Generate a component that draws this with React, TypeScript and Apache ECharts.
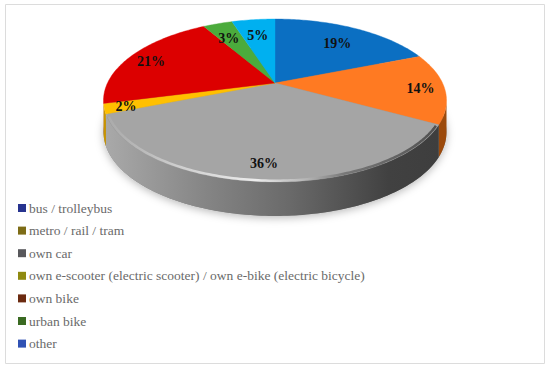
import React, { useEffect, useRef } from "react";
import * as echarts from "echarts";

const categories = [
  "bus / trolleybus",
  "metro / rail / tram",
  "own car",
  "own e-scooter (electric scooter) / own e-bike (electric bicycle)",
  "own bike",
  "urban bike",
  "other",
];
const shares = [19, 14, 36, 2, 20.6, 3.4, 5];
const sliceColors = ["#0b6fc2", "#ff7a22", "#a5a5a5", "#ffc000", "#dc0000", "#4bab3c", "#00b0f0"];
const wallColors = ["#074a80", "#9c4a0c", "#777777", "#c99500", "#8a0000", "#2d6a24", "#00709a"];
const legendColors = ["#27338f", "#7d6c16", "#58585c", "#8f8a10", "#6b2a10", "#3a6a22", "#3052b4"];
const labelRadius = [0.75, 0.86, 0.85, 0.88, 0.86, 0.78, 0.76];
const labelShiftY = [3, 1, 0, 1, 3, 3, 3];

const FONT = '"Liberation Serif", serif';
const CX = 275;
const CY = 83;
const RX = 167.5;
const RY = 77.7;
const K = 0.2147;
const DEPTH = 31;
const HORIZON = 102.4; // angle at which the rim turns out of sight
const TOTAL = shares.reduce((a, b) => a + b, 0);

const rad = (d: number) => (d * Math.PI) / 180;
function project(deg: number, r = 1): [number, number] {
  const u = Math.sin(rad(deg)) * r;
  const v = Math.cos(rad(deg)) * r;
  const s = 1 + K * v;
  return [CX + (RX * u) / s, CY - (RY * v) / s];
}
function drop(deg: number): [number, number] {
  const [x, y] = project(deg);
  return [x, y + DEPTH - 3 * Math.cos(rad(deg))];
}
function arc(a: number, b: number, f: (d: number) => [number, number]) {
  const pts: [number, number][] = [];
  const n = Math.max(2, Math.ceil(Math.abs(b - a)));
  for (let i = 0; i <= n; i++) pts.push(f(a + ((b - a) * i) / n));
  return pts;
}
function startAngle(index: number) {
  let sum = 0;
  for (let i = 0; i < index; i++) sum += shares[i];
  return (sum / TOTAL) * 360;
}
function wallFill(i: number) {
  if (i !== 2) return wallColors[i];
  return new echarts.graphic.LinearGradient(0, 0, 1, 0, [
    { offset: 0, color: "#a9a9a9" },
    { offset: 0.3, color: "#858585" },
    { offset: 0.55, color: "#6a6a6a" },
    { offset: 0.85, color: "#414141" },
    { offset: 1, color: "#3e3e3e" },
  ]);
}

function sliceRenderer(i: number) {
  return (_params: any, api: any) => {
    const value = api.value(0);
    const a = startAngle(i);
    const b = a + (value / TOTAL) * 360;
    const children: any[] = [];
    const wa = Math.max(a, HORIZON);
    const wb = Math.min(b, 360 - HORIZON);
    if (wb > wa) {
      children.push({
        type: "polygon",
        shape: { points: [...arc(wa, wb, project), ...arc(wb, wa, drop)] },
        style: { fill: wallFill(i) },
      });
    }
    children.push({
      type: "polygon",
      shape: { points: [[CX, CY], ...arc(a, b, project)] },
      style: { fill: sliceColors[i], stroke: sliceColors[i], lineWidth: 0.4 },
      z2: 5,
    });
    if (i === 2) {
      children.push({
        type: "polyline",
        shape: { points: arc(a + 1, b - 2, (d) => project(d, 0.99)) },
        style: {
          fill: "none",
          lineWidth: 2.5,
          stroke: new echarts.graphic.LinearGradient(0, 0, 1, 0, [
            { offset: 0, color: "rgba(175,175,175,0.6)" },
            { offset: 0.2, color: "rgba(215,215,215,0.8)" },
            { offset: 0.45, color: "rgba(245,245,245,0.9)" },
            { offset: 0.6, color: "rgba(190,190,190,0.7)" },
            { offset: 0.72, color: "rgba(100,100,100,0.7)" },
            { offset: 1, color: "rgba(66,66,66,0.85)" },
          ]),
        },
        z2: 6,
      });
    }
    const [lx, ly] = project((a + b) / 2, labelRadius[i]);
    children.push({
      type: "text",
      x: lx,
      y: ly + labelShiftY[i],
      style: {
        text: `${Math.round(value)}%`,
        fontFamily: FONT,
        fontWeight: "bold",
        fontSize: 14,
        fill: "#111111",
        align: "center",
        verticalAlign: "middle",
      },
      z2: 100,
    });
    return { type: "group", children };
  };
}

function shadowRenderer() {
  return {
    type: "polygon",
    shape: { points: arc(0, 360, drop) },
    style: {
      fill: "#888888",
      shadowBlur: 9,
      shadowColor: "rgba(0,0,0,0.28)",
      shadowOffsetY: 2,
    },
  };
}

export default function App() {
  const ref = useRef<HTMLDivElement>(null);
  useEffect(() => {
    document.body.style.margin = "0";
    const chart = echarts.init(ref.current!, undefined, { renderer: "svg" });
    chart.setOption({
      animation: false,
      backgroundColor: "#ffffff",
      graphic: [
        {
          type: "rect",
          shape: { x: 5.5, y: 4.5, width: 539, height: 359 },
          style: { fill: "none", stroke: "#dcdcdc", lineWidth: 1 },
          silent: true,
        },
      ],
      legend: {
        orient: "vertical",
        left: 13,
        top: 196,
        itemWidth: 8,
        itemHeight: 8,
        itemGap: 8.6,
        selectedMode: false,
        icon: "rect",
        textStyle: {
          fontFamily: FONT,
          fontSize: 13.5,
          color: "#6a6a6a",
          padding: [0, 0, 0, -2],
        },
        data: categories.map((name, i) => ({ name, itemStyle: { color: legendColors[i] } })),
      },
      series: [
        {
          type: "custom",
          name: "rim",
          coordinateSystem: "none",
          silent: true,
          clip: false,
          renderItem: shadowRenderer,
          data: [[TOTAL]],
        },
        ...categories.map((name, i) => ({
          type: "custom",
          name,
          coordinateSystem: "none",
          silent: true,
          clip: false,
          itemStyle: { color: sliceColors[i] },
          renderItem: sliceRenderer(i),
          data: [[shares[i]]],
        })),
      ],
    });
    return () => chart.dispose();
  }, []);
  return <div ref={ref} style={{ width: 550, height: 370 }} />;
}
